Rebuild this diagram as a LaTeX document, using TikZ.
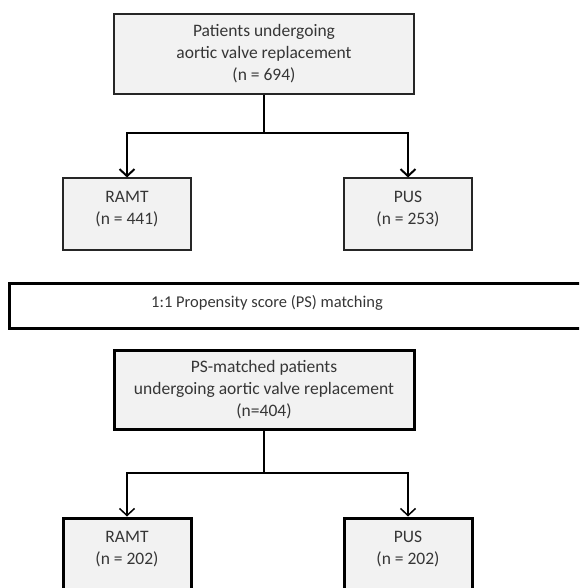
\documentclass[tikz,border=0pt]{standalone}
\usepackage{fontspec}
\setmainfont{Carlito}
\usepackage{tikz}
\usetikzlibrary{arrows.meta}
\usetikzlibrary{calc}
\definecolor{boxgray}{HTML}{F2F2F2}
\definecolor{textgray}{HTML}{363636}
\tikzstyle{flow box} = [rectangle, draw, fill = boxgray, text = textgray, align = center, font = \fontsize{17.5}{22}\selectfont, inner sep = 0]
\tikzstyle{thin box} = [flow box, line width = 1.1pt, draw = black!85]
\tikzstyle{bold box} = [flow box, line width = 3pt]
\tikzstyle{arm box} = [minimum width = 128, minimum height = 72, text depth = 12]
\tikzstyle{plain text} = [text = textgray, font = \fontsize{16.5}{22}\selectfont, inner sep = 0]
\tikzstyle{link} = [line width = 2pt]
\tikzstyle{arrow link} = [link, -{Straight Barb[length = 7pt, width = 15pt]}]
\tikzstyle{chart picture} = [x = 1pt, y = -1pt]

\begin{document}
\begin{tikzpicture}[chart picture]
    \clip (0, 0) rectangle (579, 588);
    % all patients
    \node [thin box, minimum width = 300, minimum height = 80] (all) at (264, 54)
        {Patients undergoing\\aortic valve replacement\\(n = 694)};
    \node [thin box, arm box] (ramt) at (127, 214) {RAMT\\(n = 441)};
    \node [thin box, arm box] (pus) at (408, 214) {PUS\\(n = 253)};
    \coordinate (fork) at (264, 133);
    \draw [link] (all) -- (fork);
    \draw [arrow link] (fork) -| (ramt);
    \draw [arrow link] (fork) -| (pus);
    % matching step
    \draw [line width = 3pt] (9, 283) rectangle (600, 328);
    \node [plain text] (matching) at (267, 303) {1:1 Propensity score (PS) matching};
    % matched patients
    \node [bold box, minimum width = 300, minimum height = 79] (matched) at (264, 389.5)
        {PS-matched patients\\undergoing aortic valve replacement\\(n=404)};
    \node [bold box, arm box] (ramt matched) at (127, 554) {RAMT\\(n = 202)};
    \node [bold box, arm box] (pus matched) at (408, 554) {PUS\\(n = 202)};
    \coordinate (matched fork) at (264, 473);
    \draw [link, line width = 1.5pt] (matched) -- (matched fork);
    \draw [arrow link, line width = 1.5pt] (matched fork) -| (ramt matched);
    \draw [arrow link, line width = 1.5pt] (matched fork) -| (pus matched);
\end{tikzpicture}
\end{document}
